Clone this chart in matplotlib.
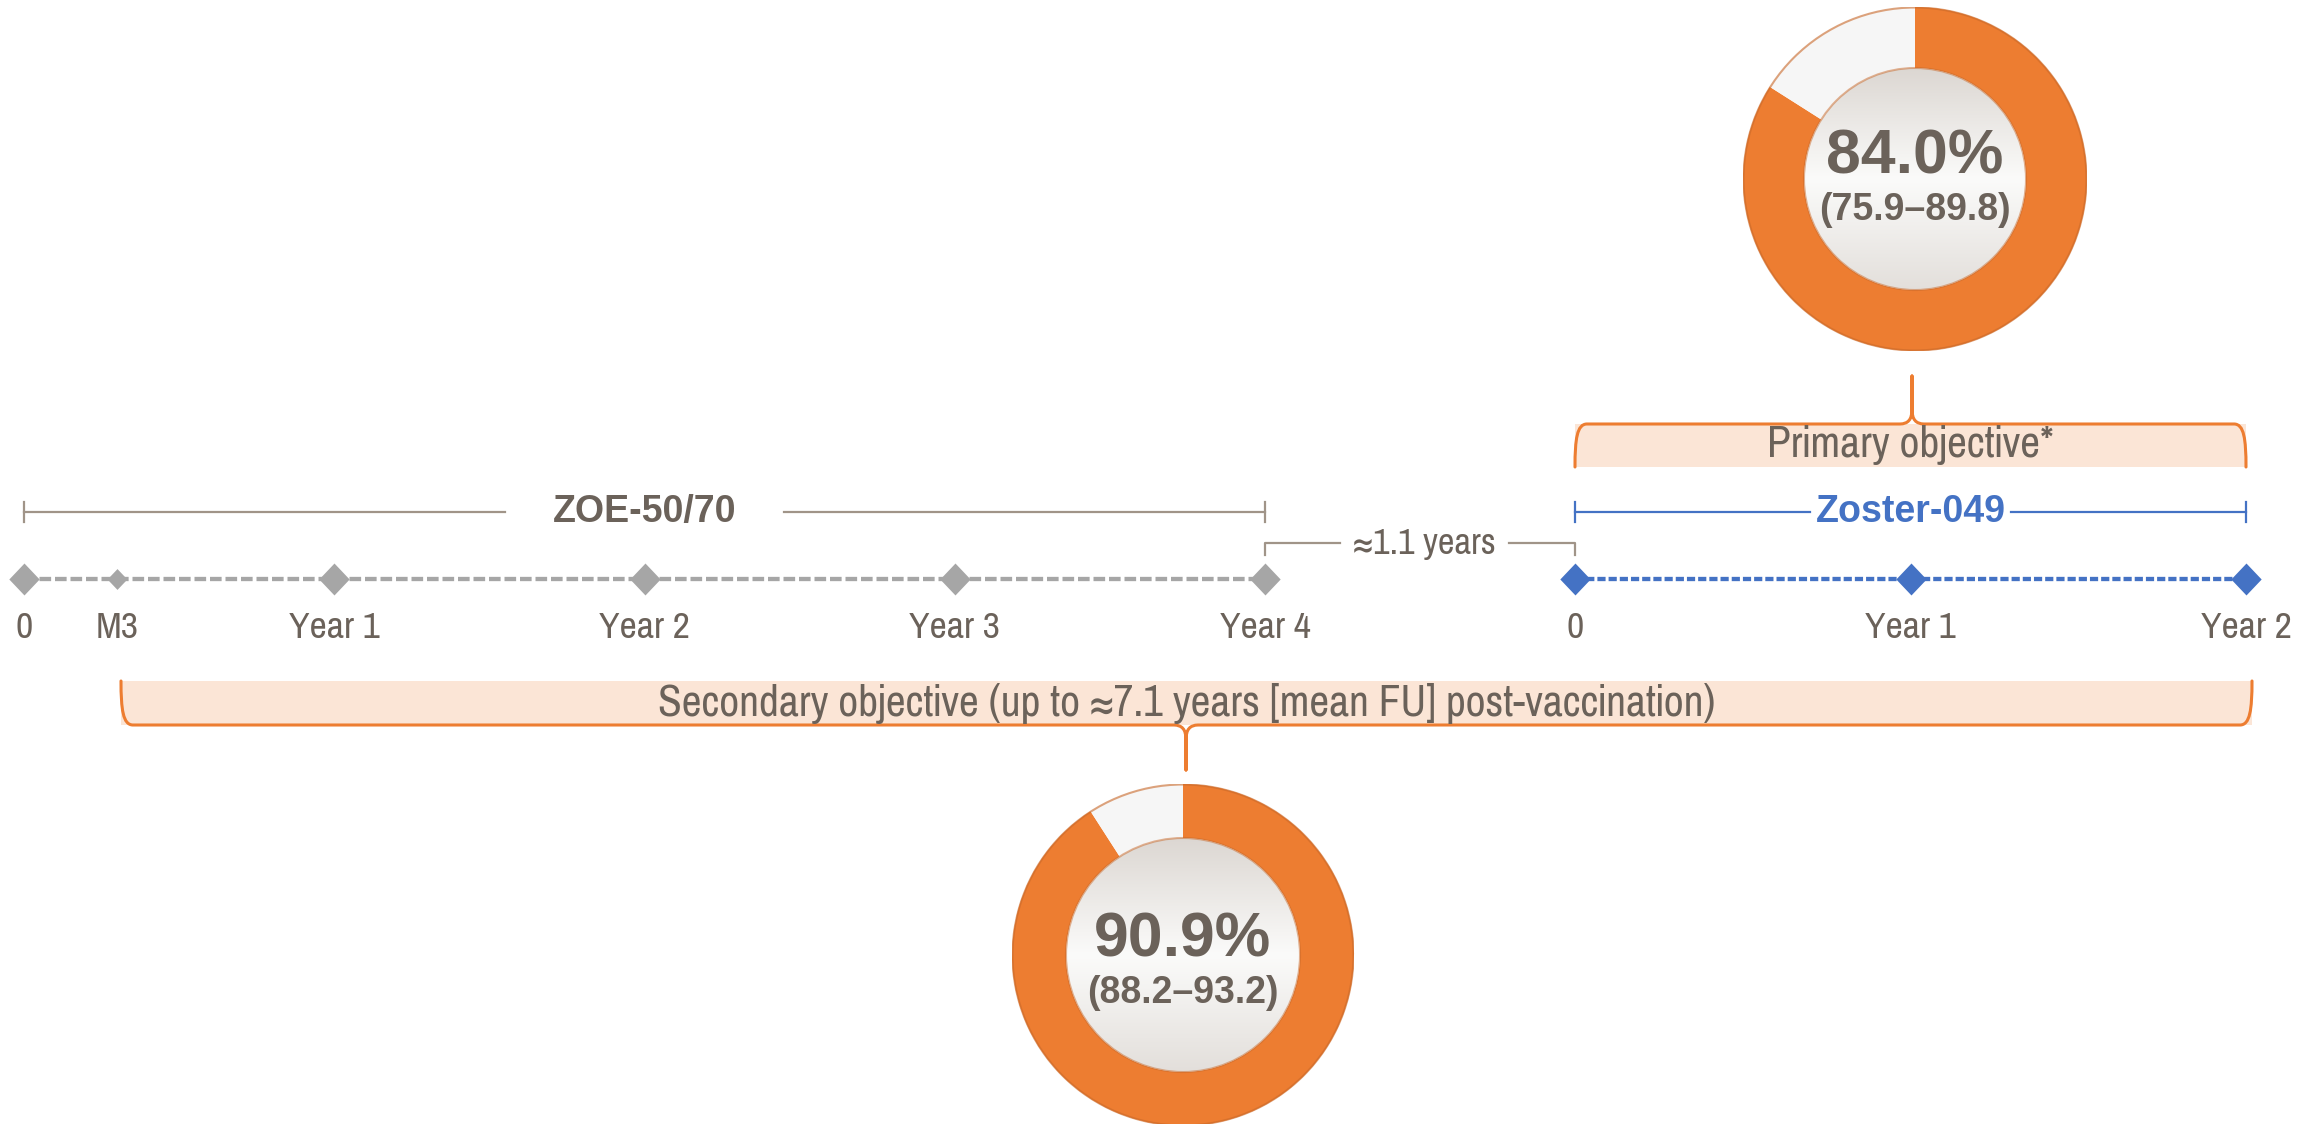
import numpy as np
import matplotlib
matplotlib.use("Agg")
import matplotlib.pyplot as plt
from matplotlib import font_manager
from matplotlib.path import Path
from matplotlib.patches import PathPatch, Rectangle, Circle
from matplotlib.colors import LinearSegmentedColormap

# ---- data ----
zoe_pos = [0, 0.3, 1, 2, 3, 4]            # years from ZOE-50/70 vaccination
zoe_labels = ["0", "M3", "Year 1", "Year 2", "Year 3", "Year 4"]
zoster_pos = [0, 1, 2]                    # years in Zoster-049
zoster_labels = ["0", "Year 1", "Year 2"]
gap_label = "≈1.1 years"
primary_ve = 84.0
primary_ci = (75.9, 89.8)
secondary_ve = 90.9
secondary_ci = (88.2, 93.2)
primary_text = "Primary objective*"
secondary_text = "Secondary objective (up to ≈7.1 years [mean FU] post-vaccination)"

# ---- style ----
W, H = 2315, 1124
TXT = "#6b625a"
BRK = "#a09488"
GRAY = "#a6a6a6"
BLUE = "#4472c4"
ORANGE = "#ed7d31"
PEACH = "#fbe5d6"

names = {f.name for f in font_manager.fontManager.ttflist}


def pick(*cands):
    for c in cands:
        if c in names:
            return c
    return "DejaVu Sans"


NARROW = pick("Pragati Narrow", "Archivo Narrow", "PT Sans Narrow", "Liberation Sans")
WIDE = pick("Liberation Sans", "Arimo")
fam_n = [NARROW, "Liberation Sans", "DejaVu Sans"]
fam_w = [WIDE, "DejaVu Sans"]

fig = plt.figure(figsize=(W / 100, H / 100), dpi=100)
fig.patch.set_facecolor("white")

# overlay in pixel units for brackets
ax = fig.add_axes([0, 0, 1, 1])
ax.set_xlim(0, W)
ax.set_ylim(H, 0)
ax.axis("off")


def track(x0, x1, tmax):
    a = fig.add_axes([x0 / W, 0, (x1 - x0) / W, 1])
    a.set_xlim(0, tmax)
    a.set_ylim(H, 0)
    a.axis("off")
    a.patch.set_alpha(0)
    return a


Y_LINE = 579
Y_LAB = 628
Y_STUDY = 512
diamond = [(0, 1), (0.95, 0), (0, -1), (-0.95, 0), (0, 1)]

# ZOE-50/70 timeline
ax_zoe = track(24, 1265, 4)
ax_zoe.plot(zoe_pos, [Y_LINE] * len(zoe_pos), color=GRAY, lw=3.1,
            dashes=(2.7, 0.9), clip_on=False, zorder=1)
for p, lab in zip(zoe_pos, zoe_labels):
    ms = 15 if lab == "M3" else 23
    ax_zoe.plot([p], [Y_LINE], marker=diamond, ms=ms, color=GRAY,
                mec="none", clip_on=False, zorder=2)
    ax_zoe.text(p, Y_LAB, lab, ha="center", va="center", fontsize=29.5,
                color=TXT, family=fam_n)
# study bracket
ax_zoe.plot([0, 1.55], [Y_STUDY] * 2, color=BRK, lw=1.6, clip_on=False)
ax_zoe.plot([2.45, 4], [Y_STUDY] * 2, color=BRK, lw=1.6, clip_on=False)
for p in (0, 4):
    ax_zoe.plot([p, p], [Y_STUDY - 10, Y_STUDY + 10], color=BRK, lw=1.6,
                clip_on=False)
ax_zoe.text(2, Y_STUDY, "ZOE-50/70", ha="center", va="center", fontsize=27,
            fontweight="bold", color=TXT, family=fam_w)

# Zoster-049 timeline
ax_zst = track(1575, 2246, 2)
ax_zst.plot(zoster_pos, [Y_LINE] * len(zoster_pos), color=BLUE, lw=3.1,
            dashes=(1.9, 0.7), clip_on=False, zorder=1)
for p, lab in zip(zoster_pos, zoster_labels):
    ax_zst.plot([p], [Y_LINE], marker=diamond, ms=23, color=BLUE,
                mec="none", clip_on=False, zorder=2)
    ax_zst.text(p, Y_LAB, lab, ha="center", va="center", fontsize=29.5,
                color=TXT, family=fam_n)
ax_zst.plot([0, 0.7], [Y_STUDY] * 2, color=BLUE, lw=1.6, clip_on=False)
ax_zst.plot([1.3, 2], [Y_STUDY] * 2, color=BLUE, lw=1.6, clip_on=False)
for p in (0, 2):
    ax_zst.plot([p, p], [Y_STUDY - 10, Y_STUDY + 10], color=BLUE, lw=1.6,
                clip_on=False)
ax_zst.text(1, Y_STUDY, "Zoster-049", ha="center", va="center", fontsize=27,
            fontweight="bold", color=BLUE, family=fam_w)

# gap between studies
ax.plot([1265, 1265, 1340], [555, 543, 543], color=BRK, lw=1.6)
ax.plot([1509, 1575, 1575], [543, 543, 555], color=BRK, lw=1.6)
ax.text(1424, 543, gap_label, ha="center", va="center", fontsize=28.5,
        color=TXT, family=fam_n)


def brace(x1, x2, yb, yo, xt, yt, text, ty):
    top, bot = min(yb, yo), max(yb, yo)
    ax.add_patch(Rectangle((x1, top), x2 - x1, bot - top, facecolor=PEACH,
                           edgecolor="none", zorder=1))
    s = 1 if yt > yb else -1
    dy = yo - yb
    verts = [(x1, yo), (x1, yb + 0.35 * dy), (x1 + 2, yb), (x1 + 12, yb),
             (xt - 12, yb), (xt, yb), (xt, yb + s * 14), (xt, yt),
             (xt, yb + s * 14), (xt, yb), (xt + 12, yb),
             (x2 - 12, yb), (x2 - 2, yb), (x2, yb + 0.35 * dy), (x2, yo)]
    codes = [Path.MOVETO, Path.CURVE4, Path.CURVE4, Path.CURVE4,
             Path.LINETO, Path.CURVE3, Path.CURVE3, Path.LINETO,
             Path.LINETO, Path.CURVE3, Path.CURVE3,
             Path.LINETO, Path.CURVE4, Path.CURVE4, Path.CURVE4]
    ax.add_patch(PathPatch(Path(verts, codes), facecolor="none",
                           edgecolor=ORANGE, lw=2.2, zorder=2,
                           capstyle="round", joinstyle="round"))
    ax.text((x1 + x2) / 2, ty, text, ha="center", va="center", fontsize=34,
            color=TXT, family=fam_n, zorder=3)


brace(1575, 2246, 424, 467, 1912, 376, primary_text, 445)
brace(121, 2252, 725, 681, 1186, 770, secondary_text, 703)

grad = LinearSegmentedColormap.from_list(
    "inner", [(0, "#dcd7d2"), (0.5, "#fbfbfa"), (1, "#e3dfdb")])


def donut(cx, cy, r, r_in, value, ci, dy_main, dy_ci):
    d = fig.add_axes([(cx - r) / W, (H - cy - r) / H, 2 * r / W, 2 * r / H])
    frac = r_in / r
    d.pie([value, 100 - value], colors=[ORANGE, "#f6f6f6"], startangle=90,
          counterclock=False, radius=1,
          wedgeprops=dict(width=1 - frac, edgecolor="none"))
    d.add_patch(Circle((0, 0), 0.997, facecolor="none", edgecolor="#c9692a",
                       lw=1.5, alpha=0.6))
    img = d.imshow(np.linspace(0, 1, 256).reshape(-1, 1), cmap=grad,
                   extent=(-frac, frac, -frac, frac), origin="upper",
                   aspect="auto", zorder=3)
    img.set_clip_path(Circle((0, 0), frac, transform=d.transData))
    d.add_patch(Circle((0, 0), frac, facecolor="none", edgecolor="#c9692a",
                       lw=1.5, alpha=0.5, zorder=4))
    d.set_xlim(-1, 1)
    d.set_ylim(-1, 1)
    d.set_aspect("auto")
    d.axis("off")
    d.text(0, dy_main, f"{value:.1f}%", ha="center", va="center",
           fontsize=45, fontweight="bold", color=TXT, family=fam_w, zorder=5)
    d.text(0, dy_ci, f"({ci[0]:.1f}–{ci[1]:.1f})", ha="center", va="center",
           fontsize=27, fontweight="bold", color=TXT, family=fam_w, zorder=5)


donut(1915, 179, 172, 111, primary_ve, primary_ci, 0.13, -0.18)
donut(1183, 955, 171, 117, secondary_ve, secondary_ci, 0.09, -0.22)

fig.savefig("out.png", dpi=100, facecolor="white")
